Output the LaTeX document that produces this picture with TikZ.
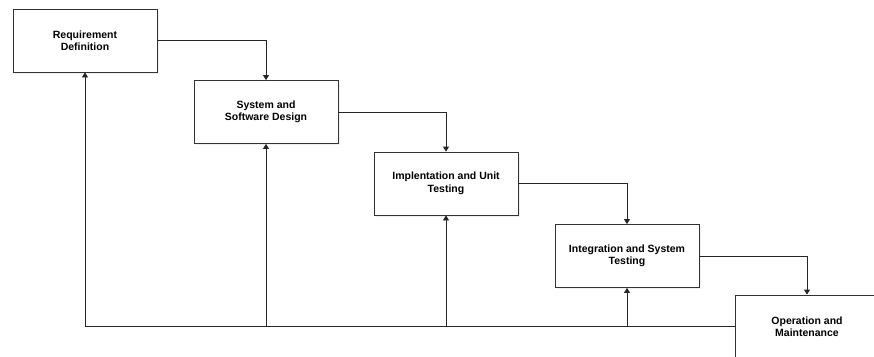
\documentclass[tikz,border=0pt]{standalone}
\usepackage{fontspec}
\setmainfont{Liberation Sans}
\usepackage{tikz}
\usetikzlibrary{arrows.meta,shadows}

\begin{document}
\begin{tikzpicture}[x=1pt,y=-1pt,
phasenode/.style={rectangle, draw=black!80, fill=white, line width=0.8pt, minimum width=144pt, minimum height=63pt, align=center, font=\fontsize{10.5}{12.5}\selectfont\bfseries, drop shadow={opacity=0.12, shadow xshift=1.5pt, shadow yshift=-1.5pt}},
flow/.style={-{Triangle[width=6pt,length=5pt]}, line width=0.8pt, black!85}
]
\useasboundingbox (0,0) rectangle (874,356);
%Nodes
\node[phasenode] at (85,40.5) (REQ) {Requirement\\Definition};
\node[phasenode] at (266,112) (DES) {System and\\Software Design};
\node[phasenode] at (446,183.5) (IMP) {Implentation and Unit\\Testing};
\node[phasenode] at (627,256) (INT) {Integration and System\\Testing};
\node[phasenode] at (807,326.5) (OPS) {Operation and\\Maintenance};

%Lines
\draw[flow] (REQ.east) -| (DES.north);
\draw[flow] (DES.east) -| (IMP.north);
\draw[flow] (IMP.east) -| (INT.north);
\draw[flow] (INT.east) -| (OPS.north);

\draw[flow] (OPS.west) -| (REQ.south);
\draw[flow] (DES.south |- OPS.west) -- (DES.south);
\draw[flow] (IMP.south |- OPS.west) -- (IMP.south);
\draw[flow] (INT.south |- OPS.west) -- (INT.south);

\end{tikzpicture}
\end{document}
